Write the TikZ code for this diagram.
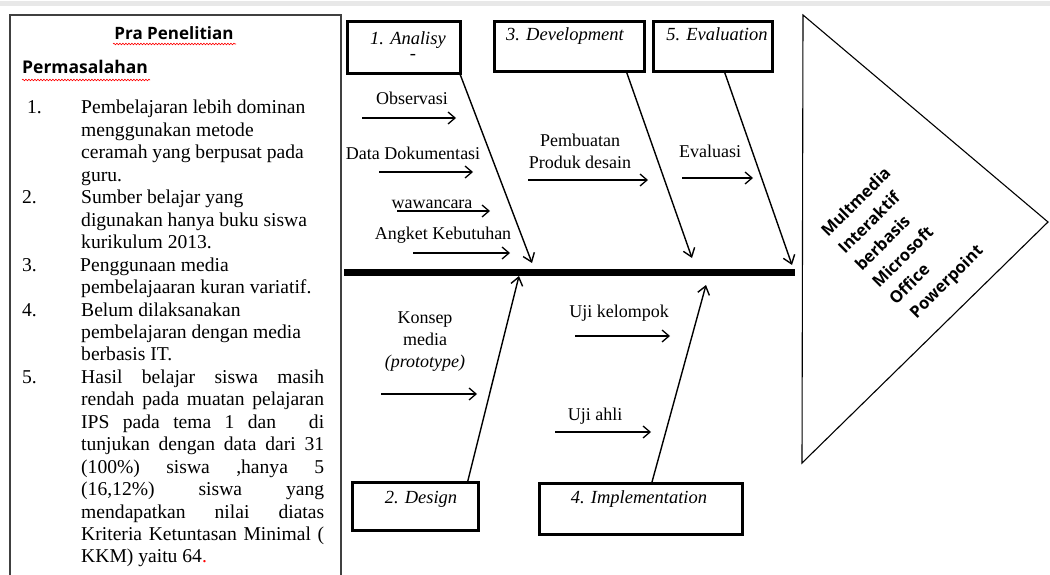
\documentclass[tikz,border=0pt]{standalone}
\usepackage{fontspec}
\setmainfont{Liberation Serif}
\newfontfamily\headfont{Open Sans}
\usetikzlibrary{arrows.meta,decorations.pathmorphing}
\begin{document}
\begin{tikzpicture}[x=1pt,y=-1pt,
  box/.style={draw, line width=2.8pt, inner sep=0, anchor=north west},
  arr/.style={-{Straight Barb[length=7pt,width=12pt,line width=1.3pt]}, line width=1.3pt},
  darr/.style={-{Straight Barb[length=8pt,width=12pt,line width=1.4pt]}, line width=1.4pt},
  lbl/.style={font=\fontsize{18}{21}\selectfont, inner sep=0, anchor=base},
  ttl/.style={font=\itshape\fontsize{18.5}{21}\selectfont, inner sep=0, anchor=base},
  wavy/.style={red, line width=0.6pt, decorate, decoration={snake, segment length=3pt, amplitude=0.8pt}}]
\useasboundingbox (0,0) rectangle (1050,575);
% top strip
\fill[gray!18] (0,1) rectangle (1050,6);
% left panel
\draw[line width=1.2pt, black!75] (10,580) -- (10,15) -- (341,15) -- (341,580);
\node[anchor=base, inner sep=0] (pra) at (174,40) {\headfont\bfseries\fontsize{17}{20}\selectfont Pra Penelitian};
\draw[wavy] (113,44) -- (236,44);
\node[anchor=base west, inner sep=0] (perm) at (22,74) {\headfont\bfseries\fontsize{17.5}{20}\selectfont Permasalahan};
\draw[wavy] (22,80) -- (150,80);
\node[anchor=base west, inner sep=0] (list) at (22,114) {\parbox[t]{330pt}{\fontsize{19.6}{22.45}\selectfont\raggedright
\makebox[59pt][l]{\hspace{5pt}1.}Pembelajaran lebih dominan\\
\hspace*{59pt}menggunakan metode\\
\hspace*{59pt}ceramah yang berpusat pada\\
\hspace*{59pt}guru.\\
\makebox[59pt][l]{2.}Sumber belajar yang\\
\hspace*{59pt}digunakan hanya buku siswa\\
\hspace*{59pt}kurikulum 2013.\\
\makebox[58pt][l]{3.}Penggunaan media\\
\hspace*{59pt}pembelajaaran kuran variatif.\\
\makebox[59pt][l]{4.}Belum dilaksanakan\\
\hspace*{59pt}pembelajaran dengan media\\
\hspace*{59pt}berbasis IT.\\
\makebox[59pt][l]{5.}\makebox[243pt][s]{Hasil belajar siswa masih}\\
\hspace*{59pt}\makebox[243pt][s]{rendah pada muatan pelajaran}\\
\hspace*{59pt}\makebox[243pt][s]{IPS pada tema 1 dan \hspace{6pt} di}\\
\hspace*{59pt}\makebox[243pt][s]{tunjukan dengan data dari 31}\\
\hspace*{59pt}\makebox[243pt][s]{(100\%) siswa ,hanya 5}\\
\hspace*{59pt}\makebox[243pt][s]{(16,12\%) siswa yang}\\
\hspace*{59pt}\makebox[243pt][s]{mendapatkan nilai diatas}\\
\hspace*{59pt}\makebox[243pt][s]{Kriteria Ketuntasan Minimal (}\\
\hspace*{59pt}KKM) yaitu 64{\color{red}.}}};
% boxes
\node[box, minimum width=113pt, minimum height=52pt] (b1) at (346,20) {};
\node[box, minimum width=150pt, minimum height=50pt] (b3) at (493,20) {};
\node[box, minimum width=119pt, minimum height=50pt] (b5) at (652,20) {};
\node[box, minimum width=126pt, minimum height=48pt] (b2) at (351,481) {};
\node[box, minimum width=203pt, minimum height=51pt] (b4) at (538,482) {};
\node[ttl] (t1) at (408,45) {1. Analisy};
\node[ttl] (t1b) at (413,60) {-};
\node[ttl] (t3) at (565,41) {3. Development};
\node[ttl] (t5) at (717,41) {5. Evaluation};
\node[ttl] (t2) at (421,503) {2. Design};
\node[ttl] (t4) at (639,503) {4. Implementation};
% spine
\coordinate (s0) at (344,272);
\coordinate (s1) at (795,272);
\draw[line width=7pt] (s0) -- (s1);
% diagonal bones
\coordinate (d1) at (532,263);
\coordinate (d3) at (692,258);
\coordinate (d5) at (792,265);
\coordinate (d2) at (519,276);
\coordinate (d4) at (706,285);
\draw[darr] ([xshift=-1.5pt]b1.south east) -- (d1);
\draw[darr] ([xshift=-19pt]b3.south east) -- (d3);
\draw[darr] ([xshift=-49pt]b5.south east) -- (d5);
\draw[darr] ([xshift=-12pt]b2.north east) -- (d2);
\draw[darr] ([xshift=114pt]b4.north west) -- (d4);
% labels
\node[lbl] (obs) at (412,105) {Observasi};
\node[lbl] (dok) at (413,160) {Data Dokumentasi};
\node[lbl] (waw) at (432,208) {wawancara};
\node[lbl] (ang) at (443,240) {Angket Kebutuhan};
\node[lbl, anchor=base] (pem) at (580,147) {\parbox[t]{150pt}{\centering\fontsize{18}{21}\selectfont Pembuatan\\Produk desain}};
\node[lbl] (eva) at (710,158) {Evaluasi};
\node[lbl] (kon) at (425,323) {\parbox[t]{120pt}{\centering\fontsize{18}{22}\selectfont Konsep\\media\\\textit{(prototype)}}};
\node[lbl] (ujk) at (619,317) {Uji kelompok};
\node[lbl] (uja) at (595,420) {Uji ahli};
% small arrows
\coordinate (o1) at (362,118); \coordinate (o2) at (456,118);
\coordinate (k1) at (379,172); \coordinate (k2) at (473,172);
\coordinate (w1) at (397,211); \coordinate (w2) at (490,211);
\coordinate (a1) at (413,253); \coordinate (a2) at (510,253);
\coordinate (p1) at (528,180); \coordinate (p2) at (648,180);
\coordinate (e1) at (682,178); \coordinate (e2) at (753,178);
\coordinate (c1) at (381,394); \coordinate (c2) at (477,394);
\coordinate (u1) at (575,336); \coordinate (u2) at (670,336);
\coordinate (h1) at (555,432); \coordinate (h2) at (651,432);
\draw[arr] (o1) -- (o2);
\draw[arr] (k1) -- (k2);
\draw[arr] (w1) -- (w2);
\draw[arr] (a1) -- (a2);
\draw[arr] (p1) -- (p2);
\draw[arr] (e1) -- (e2);
\draw[arr] (c1) -- (c2);
\draw[arr] (u1) -- (u2);
\draw[arr] (h1) -- (h2);
% head triangle
\coordinate (h0) at (803,15);
\coordinate (hb) at (802,463);
\coordinate (ht) at (1048,222);
\draw[line width=1.1pt, line join=miter] (h0) -- (ht) -- (hb) -- cycle;
\node[rotate=45, anchor=base west, inner sep=0] (mm) at (828,238) {\parbox[t]{120pt}{\headfont\bfseries\fontsize{16.5}{24}\selectfont\raggedright Multmedia\\Interaktif\\berbasis\\Microsoft\\Office\\\hspace*{5pt}Powerpoint}};
\end{tikzpicture}
\end{document}
